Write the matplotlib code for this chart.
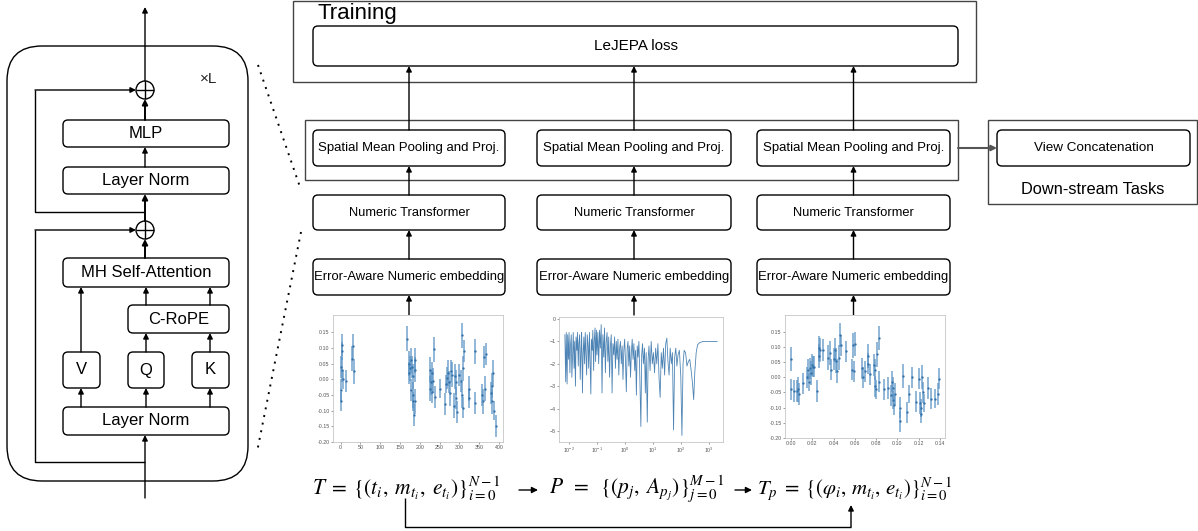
import numpy as np
import matplotlib.pyplot as plt
from matplotlib.patches import FancyBboxPatch, Rectangle, Circle
from matplotlib.ticker import FixedLocator, FormatStrFormatter

plt.rcParams['font.family'] = ['Liberation Sans', 'DejaVu Sans']
plt.rcParams['mathtext.fontset'] = 'stix'

# light curve (time, mag, err) of the first view
lc_t = [0, 1.5, 0, 2.5, 2.5, 4, 5.5, 12.6, 27.8, 30.3, 32.8,
        168, 172, 174, 176, 177, 178.5, 180, 182, 183, 184, 185, 187, 188, 189,
        225, 226.5, 228, 230, 231.5, 233, 236.6, 238, 250,
        263, 267, 269.5, 272, 274.5, 277, 279.6, 282, 285.5, 288, 290.5, 292, 294.7,
        299, 305, 306.5, 307, 308, 309, 310.7, 323, 325, 338.5, 340,
        357, 359, 361, 364, 368, 380.6, 382, 383, 385, 386.5, 393]
lc_m = [0.04, -0.07, -0.035, 0.09, 0.11, 0.03, 0.0, -0.005, 0.065, 0.105, 0.025,
        0.13, 0.02, 0.05, 0.035, -0.035, 0.06, 0.04, 0.01, -0.07, -0.05, -0.115, 0.06, -0.07, 0.03,
        -0.03, 0.03, -0.01, 0.02, -0.04, -0.005, 0.095, -0.055, -0.03,
        -0.08, -0.015, 0.005, 0.02, -0.01, -0.045, 0.025, 0.015, -0.085, 0.01, -0.06, -0.01, -0.105,
        0.015, -0.005, 0.14, -0.05, 0.035, -0.09, 0.09, -0.06, -0.03, -0.075, 0.09,
        -0.05, -0.07, 0.07, -0.03, 0.08, -0.045, -0.07, -0.02, 0.02, -0.1, -0.15]
lc_e = [0.035, 0.03, 0.035, 0.03, 0.035, 0.04, 0.03, 0.035, 0.04, 0.04, 0.04,
        0.04, 0.035, 0.04, 0.04, 0.035, 0.04, 0.035, 0.04, 0.03, 0.04, 0.035, 0.04, 0.04, 0.04,
        0.04, 0.04, 0.04, 0.035, 0.035, 0.04, 0.04, 0.035, 0.03,
        0.035, 0.03, 0.035, 0.04, 0.035, 0.04, 0.035, 0.04, 0.04, 0.04, 0.035, 0.04, 0.035,
        0.035, 0.035, 0.04, 0.04, 0.04, 0.035, 0.035, 0.03, 0.04, 0.035, 0.04,
        0.035, 0.04, 0.035, 0.04, 0.035, 0.035, 0.04, 0.04, 0.04, 0.03, 0.035]

# periodogram (log10 frequency, log10 power) of the second view
periodogram = [
    (-2.15, -0.7), (-2.12, -2.8), (-2.10, -0.6), (-2.07, -2.9), (-2.05, -0.7), (-2.02, -1.8),
    (-2.00, -0.6), (-1.97, -2.4), (-1.95, -1.2), (-1.92, -0.7), (-1.90, -2.6), (-1.87, -1.5),
    (-1.85, -0.6), (-1.82, -2.2), (-1.80, -1.0), (-1.77, -3.0), (-1.75, -0.8), (-1.72, -1.4),
    (-1.70, -0.6), (-1.67, -2.1), (-1.65, -1.1), (-1.62, -0.7), (-1.60, -2.7), (-1.57, -1.3),
    (-1.55, -0.6), (-1.52, -3.3), (-1.50, -1.6), (-1.47, -0.8), (-1.45, -2.0), (-1.42, -0.6),
    (-1.40, -1.5), (-1.37, -2.5), (-1.35, -0.7), (-1.32, -1.2), (-1.30, -2.2), (-1.27, -0.6),
    (-1.25, -1.8), (-1.22, -3.35), (-1.20, -0.9), (-1.17, -1.4), (-1.15, -0.5), (-1.12, -2.3),
    (-1.10, -1.0), (-1.07, -0.4), (-1.05, -1.9), (-1.02, -0.5),
    (-1.00, -1.6), (-0.97, -0.6), (-0.94, -2.0), (-0.91, -0.5), (-0.88, -1.3), (-0.85, -0.25),
    (-0.82, -3.3), (-0.79, -0.7), (-0.76, -1.7), (-0.73, -0.4), (-0.70, -2.4), (-0.67, -1.0),
    (-0.64, -0.6), (-0.61, -1.9), (-0.58, -0.8), (-0.55, -2.6), (-0.52, -1.2), (-0.49, -0.7),
    (-0.46, -3.3), (-0.43, -1.1), (-0.40, -1.6), (-0.37, -0.8), (-0.34, -2.2), (-0.31, -1.0),
    (-0.28, -1.8), (-0.25, -0.9), (-0.22, -2.5), (-0.19, -1.3), (-0.16, -1.0), (-0.13, -2.0),
    (-0.10, -1.2), (-0.07, -2.7), (-0.04, -1.4), (-0.01, -0.9), (0.02, -1.9),
    (0.05, -3.25), (0.08, -1.3), (0.11, -1.0), (0.14, -2.1), (0.17, -1.2), (0.20, -2.6),
    (0.23, -1.5), (0.26, -0.9), (0.29, -1.8), (0.32, -1.1), (0.35, -2.3), (0.38, -1.4),
    (0.41, -3.4), (0.44, -1.2), (0.47, -1.7), (0.50, -1.0), (0.53, -2.4), (0.57, -4.8),
    (0.60, -1.6), (0.63, -1.1), (0.66, -2.0), (0.70, -1.3), (0.73, -3.3), (0.76, -1.5),
    (0.80, -4.6), (0.83, -1.8), (0.86, -1.2), (0.90, -2.3), (0.94, -1.0), (0.98, -2.0),
    (1.02, -1.5), (1.06, -2.4), (1.10, -1.3), (1.14, -2.0), (1.18, -1.1), (1.22, -2.6),
    (1.26, -3.5), (1.30, -1.5), (1.34, -2.2), (1.38, -1.3), (1.42, -2.5), (1.46, -1.1),
    (1.50, -0.85), (1.54, -1.9), (1.58, -2.5), (1.62, -1.3), (1.66, -2.0), (1.70, -1.5),
    (1.74, -4.95), (1.78, -1.7), (1.82, -1.3), (1.86, -2.1),
    (1.90, -1.6), (1.95, -1.4), (2.00, -2.6), (2.04, -5.2), (2.08, -2.0), (2.12, -1.4),
    (2.17, -1.5), (2.22, -2.1), (2.27, -1.9), (2.32, -1.8), (2.37, -2.3), (2.42, -2.9),
    (2.46, -3.6), (2.50, -2.4), (2.55, -1.5), (2.60, -1.15), (2.68, -1.05), (2.80, -1.0),
    (3.00, -1.0), (3.30, -1.0)]

# phase-folded curve (phase, mag, err) of the third view
ph_x = [0.000, 0.000, 0.0025, 0.0056, 0.0066, 0.0078, 0.011, 0.015, 0.0156, 0.0166, 0.0175,
        0.019, 0.0195, 0.021, 0.022, 0.024, 0.026, 0.0265, 0.0275, 0.030, 0.035, 0.037, 0.038,
        0.040, 0.041, 0.042, 0.043, 0.045, 0.046, 0.047, 0.052, 0.057, 0.058, 0.059, 0.060,
        0.067, 0.0675, 0.070, 0.072, 0.0725, 0.074, 0.078, 0.0785, 0.079, 0.080, 0.081, 0.0825,
        0.083, 0.087, 0.091, 0.094, 0.095, 0.0955, 0.096, 0.097, 0.098, 0.102, 0.1025, 0.105,
        0.109, 0.111, 0.114, 0.117, 0.120, 0.121, 0.122, 0.1225, 0.123, 0.124, 0.125, 0.129,
        0.132, 0.135, 0.138, 0.139]
ph_m = [0.06, -0.04, -0.045, -0.045, -0.04, -0.055, -0.02, 0.0, 0.025, -0.015, 0.03,
        0.015, 0.04, 0.035, 0.035, -0.045, 0.095, 0.07, 0.09, 0.09, 0.065, 0.08, 0.025,
        0.06, 0.09, 0.055, 0.02, 0.065, 0.14, 0.105, 0.085, 0.025, 0.105, 0.02, 0.11,
        0.03, 0.0, 0.02, 0.045, 0.07, 0.01, 0.04, -0.03, 0.025, -0.04, 0.075, 0.13,
        -0.015, -0.04, -0.035, -0.06, -0.015, -0.075, -0.035, -0.09, -0.055, -0.1, -0.145, 0.005,
        -0.115, -0.055, 0.0, -0.08, -0.005, -0.085, -0.12, -0.1, 0.0, -0.05, -0.085, -0.035,
        -0.07, -0.07, -0.055, -0.005]
ph_e = [0.04, 0.035, 0.035, 0.035, 0.04, 0.035, 0.035, 0.035, 0.035, 0.03, 0.035,
        0.04, 0.035, 0.035, 0.035, 0.035, 0.04, 0.04, 0.04, 0.035, 0.04, 0.04, 0.035,
        0.035, 0.04, 0.04, 0.04, 0.04, 0.04, 0.035, 0.035, 0.035, 0.04, 0.035, 0.04,
        0.035, 0.035, 0.035, 0.035, 0.04, 0.035, 0.035, 0.035, 0.035, 0.03, 0.04, 0.04,
        0.035, 0.035, 0.035, 0.035, 0.035, 0.03, 0.035, 0.035, 0.035, 0.035, 0.035, 0.04,
        0.035, 0.03, 0.035, 0.035, 0.035, 0.035, 0.03, 0.03, 0.04, 0.035, 0.03, 0.035,
        0.035, 0.03, 0.035, 0.035]

mag_ticks = [-0.20, -0.15, -0.10, -0.05, 0.0, 0.05, 0.10, 0.15]

W, H = 1198, 531
fig = plt.figure(figsize=(W / 100, H / 100), dpi=100)
ax = fig.add_axes([0, 0, 1, 1])
ax.set_xlim(0, W)
ax.set_ylim(H, 0)
ax.axis('off')


def box(x0, y0, x1, y1, text, fs=10, r=5, lw=1.0):
    ax.add_patch(FancyBboxPatch((x0, y0), x1 - x0, y1 - y0,
                                boxstyle=f"round,pad=0,rounding_size={r}",
                                fc='white', ec='black', lw=lw))
    if text:
        ax.text((x0 + x1) / 2, (y0 + y1) / 2, text, fontsize=fs, ha='center', va='center')


def arrow(x0, y0, x1, y1, lw=1.0, color='black', ms=8):
    ax.annotate('', xy=(x1, y1), xytext=(x0, y0),
                arrowprops=dict(arrowstyle='-|>', lw=lw, color=color, mutation_scale=ms,
                                shrinkA=0, shrinkB=0))


def line(xs, ys, lw=1.0, color='black'):
    ax.plot(xs, ys, color=color, lw=lw, solid_capstyle='butt')


def oplus(cx, cy, r=9):
    ax.add_patch(Circle((cx, cy), r, fill=False, ec='black', lw=1.0))
    line([cx - r, cx + r], [cy, cy])
    line([cx, cx], [cy - r, cy + r])


# ---- left: transformer block ----
ax.add_patch(FancyBboxPatch((7, 46), 241, 435, boxstyle="round,pad=0,rounding_size=35",
                            fc='none', ec='black', lw=1.0))
ax.text(200, 79, '×L', fontsize=11, ha='left', va='center', color='#222')

box(63, 120, 229, 147, 'MLP', 12)
box(63, 167, 229, 194, 'Layer Norm', 12)
box(63, 258, 229, 287, 'MH Self-Attention', 12)
box(128, 305, 229, 333, 'C-RoPE', 12)
box(63, 352, 100, 388, 'V', 12)
box(128, 352, 164, 388, 'Q', 12)
box(192, 352, 229, 388, 'K', 12)
box(63, 407, 229, 435, 'Layer Norm', 12)

oplus(145, 90)
oplus(145, 230)

arrow(145, 81, 145, 7)
arrow(145, 120, 145, 99, lw=1.4)
arrow(145, 167, 145, 147)
arrow(145, 221, 145, 194, lw=1.4)
arrow(145, 258, 145, 239, lw=1.4)
arrow(145, 498, 145, 435)
line([145, 35, 35], [212, 212, 90])
arrow(35, 90, 136, 90)
line([145, 35, 35], [462, 462, 230])
arrow(35, 230, 136, 230)
for xc in (81, 146, 210):
    arrow(xc, 407, xc, 388)
arrow(81, 352, 81, 287)
arrow(146, 352, 146, 333)
arrow(210, 352, 210, 333)
arrow(146, 305, 146, 287)
arrow(210, 305, 210, 287)

# dotted zoom lines
ax.plot([258, 301], [65, 190], color='black', lw=1.4, linestyle=(0, (1, 3)))
ax.plot([301, 257], [232, 452], color='black', lw=1.4, linestyle=(0, (1, 3)))

# ---- right: training pipeline ----
ax.add_patch(Rectangle((293, 1), 683, 81, fill=False, ec='#444', lw=1.0))
ax.text(318, 14, 'Training', fontsize=16, ha='left', va='center')
box(313, 26, 958, 66, 'LeJEPA loss', 11)

ax.add_patch(Rectangle((305, 120), 653, 60, fill=False, ec='#444', lw=1.0))
ax.add_patch(Rectangle((988, 120), 209, 84, fill=False, ec='#444', lw=1.0))
box(997, 130, 1190, 166, 'View Concatenation', 9.7)
ax.text(1093, 189, 'Down-stream Tasks', fontsize=11.8, ha='center', va='center')
arrow(958, 148, 997, 148, lw=1.5, color='#555')

cols = [(313, 505), (537, 731), (757, 950)]
for x0, x1 in cols:
    xc = (x0 + x1) / 2
    box(x0, 130, x1, 166, 'Spatial Mean Pooling and Proj.', 9.5)
    box(x0, 195, x1, 230, 'Numeric Transformer', 9.3)
    box(x0, 259, x1, 295, 'Error-Aware Numeric embedding', 9.4)
    arrow(xc, 130, xc, 66)
    arrow(xc, 195, xc, 166)
    arrow(xc, 259, xc, 230)
    arrow(xc, 315, xc, 295)


# ---- mini plots ----
def mini_axes(x0, y0, x1, y1):
    a = fig.add_axes([x0 / W, 1 - y1 / H, (x1 - x0) / W, (y1 - y0) / H])
    a.tick_params(labelsize=3.8, length=1.5, width=0.4, pad=1, colors='#555')
    for s in a.spines.values():
        s.set_color('#bbbbbb')
        s.set_linewidth(0.5)
    return a


ebar = dict(fmt='.', ms=1.5, color='#2f6fa8', ecolor='#5a93c4', elinewidth=1.1, alpha=0.85)

a1 = mini_axes(333, 315, 503, 442)
a1.errorbar(lc_t, lc_m, yerr=lc_e, **ebar)
a1.set_xlim(-19, 410)
a1.set_ylim(-0.2, 0.205)
a1.xaxis.set_major_locator(FixedLocator([0, 50, 100, 150, 200, 250, 300, 350, 400]))
a1.yaxis.set_major_locator(FixedLocator(mag_ticks))
a1.yaxis.set_major_formatter(FormatStrFormatter('%.2f'))

a2 = mini_axes(559, 317, 723, 442)
pf = [10 ** p for p, _ in periodogram]
pv = [v for _, v in periodogram]
a2.plot(pf, pv, color='#2f6fa8', lw=0.6, alpha=0.85)
a2.set_xscale('log')
a2.set_xlim(10 ** -2.36, 10 ** 3.51)
a2.set_ylim(-5.49, 0.09)
a2.xaxis.set_major_locator(FixedLocator([1e-2, 1e-1, 1e0, 1e1, 1e2, 1e3]))
a2.xaxis.set_minor_locator(FixedLocator([]))
a2.yaxis.set_major_locator(FixedLocator([-5, -4, -3, -2, -1, 0]))

a3 = mini_axes(785, 315, 945, 438)
a3.errorbar(ph_x, ph_m, yerr=ph_e, **ebar)
a3.set_xlim(-0.0056, 0.1447)
a3.set_ylim(-0.2, 0.205)
a3.xaxis.set_major_locator(FixedLocator([0.0, 0.02, 0.04, 0.06, 0.08, 0.10, 0.12, 0.14]))
a3.xaxis.set_major_formatter(FormatStrFormatter('%.2f'))
a3.yaxis.set_major_locator(FixedLocator(mag_ticks))
a3.yaxis.set_major_formatter(FormatStrFormatter('%.2f'))

# ---- formulas ----
ax.text(312, 489, r'$T\;=\;\{(t_i,\;m_{t_i},\;e_{t_i})\}_{i=0}^{N-1}$',
        fontsize=15.5, ha='left', va='center')
arrow(519, 490, 538, 490, ms=9)
ax.text(549, 489, r'$P\;\;=\;\;\{(p_j,\;A_{p_j})\}_{j=0}^{M-1}$',
        fontsize=15.5, ha='left', va='center')
arrow(735, 490, 752, 490, ms=9)
ax.text(757, 489, r'$T_p\;=\;\{(\varphi_i,\,m_{t_i},\,e_{t_i})\}_{i=0}^{N-1}$',
        fontsize=15, ha='left', va='center')

line([405, 405, 851], [498, 527, 527])
arrow(851, 527, 851, 505)

fig.savefig('out.png', dpi=100)
